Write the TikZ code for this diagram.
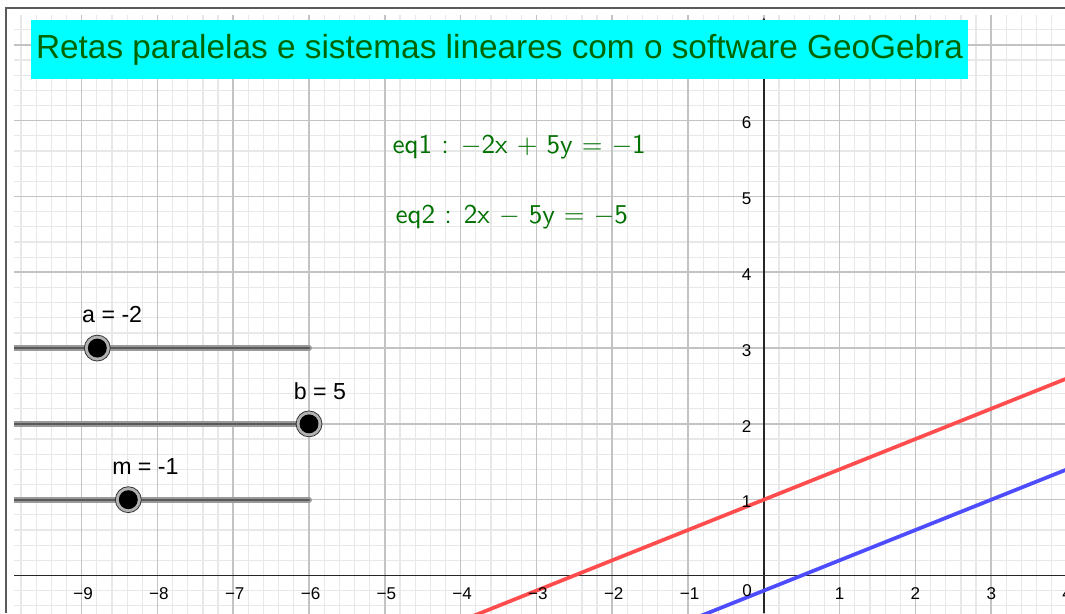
\documentclass[tikz,border=0pt]{standalone}
\usepackage{fontspec}
\newfontfamily\arial{Liberation Sans}
\usetikzlibrary{arrows.meta}
\definecolor{titlegreen}{RGB}{0,100,0}
\definecolor{eqgreen}{RGB}{0,112,0}
\definecolor{minorgrid}{RGB}{232,232,232}
\definecolor{majorgrid}{RGB}{195,195,195}
\definecolor{redline}{RGB}{255,77,77}
\definecolor{blueline}{RGB}{77,77,255}
\definecolor{framecol}{RGB}{90,90,90}
\definecolor{titlecyan}{RGB}{0,255,255}
\begin{document}
\begin{tikzpicture}[x=1cm,y=1cm,
  minorg/.style={draw=minorgrid, line width=0.45pt},
  majorg/.style={draw=majorgrid, line width=0.6pt},
  axisline/.style={draw=black!85, line width=0.65pt},
  ticklab/.style={font=\arial\fontsize{6.4}{7}\selectfont, inner sep=0pt},
  sliderlab/.style={font=\arial\fontsize{8.7}{10}\selectfont, anchor=base west, inner sep=0pt},
  eqlab/.style={font=\sffamily\fontsize{10.2}{12}\selectfont, text=eqgreen, anchor=base west, inner sep=0pt},
  sliderbar/.style={draw=gray!80, line width=2.2pt, line cap=round},
  slidercore/.style={draw=gray!70!black, line width=0.8pt, line cap=round},
  knobring/.style={circle, fill=gray!60, draw=gray!40!black, line width=0.3pt, minimum size=26*0.374pt, inner sep=0pt},
  knob/.style={circle, fill=black, minimum size=19*0.374pt, inner sep=0pt},
  titlebox/.style={fill=titlecyan, text=titlegreen, minimum width=12.361cm, minimum height=0.778cm, inner sep=0pt, font=\arial\fontsize{12.52}{14}\selectfont},
]
\useasboundingbox (-10.077,-0.495) rectangle (3.973,7.592);
% frame
\draw[draw=framecol, line width=0.75pt] (-10.004,-0.495) -- (-10.004,7.493) -- (3.973,7.493);
\begin{scope}
  \clip (-9.892,-0.495) rectangle (3.973,7.381);
  \draw[minorg, step=0.2] (-10,-0.6) grid (4,7.4);
  \draw[majorg, step=1] (-10,-0.6) grid (4,7.4);
  % axes
  \draw[axisline] (-9.892,0) -- (3.973,0);
  \coordinate (ybot) at (0,-0.495);
  \coordinate (ytop) at (0,7.36);
  \draw[axisline, -{Stealth[length=4pt,width=4.5pt]}] (ybot) -- (ytop);
  % lines
  \draw[redline, line width=1.4pt] (-5,-1) -- (5,3);
  \draw[blueline, line width=1.4pt] (-5,-2.2) -- (5,1.8);
  % sliders
  \coordinate (sa0) at (-9.95,3); \coordinate (sa1) at (-6,3);
  \coordinate (sb0) at (-9.95,2); \coordinate (sb1) at (-6,2);
  \coordinate (sm0) at (-9.95,1); \coordinate (sm1) at (-6,1);
  \foreach \s in {a,b,m} {
    \draw[sliderbar] (s\s0) -- (s\s1);
    \draw[slidercore] (s\s0) -- (s\s1);
  }
\end{scope}
% tick labels
\foreach \i in {1,...,9} { \node[ticklab] (xn\i) at (-\i+0.02,-0.244) {−\i}; }
\foreach \i in {1,...,4} { \node[ticklab] (xp\i) at (\i,-0.244) {\i}; }
\node[ticklab] (x0) at (-0.222,-0.204) {0};
\foreach \i in {1,...,6} { \node[ticklab, anchor=east] (y\i) at (-0.156,\i-0.03) {\i}; }
% slider knobs
\node[knobring] (ka) at (-8.793,3) {}; \node[knob] at (ka) {};
\node[knobring] (kb) at (-6,2) {}; \node[knob] at (kb) {};
\node[knobring] (km) at (-8.384,1) {}; \node[knob] at (km) {};
\node[sliderlab] (la) at (-8.999,3.340) {a = -2};
\node[sliderlab] (lb) at (-6.207,2.328) {b = 5};
\node[sliderlab] (lm) at (-8.603,1.326) {m = -1};
% equations
\node[eqlab] (eq1) at (-4.905,5.570) {eq1 : $-$2x $+$ 5y $=$ $-$1};
\node[eqlab] (eq2) at (-4.866,4.637) {eq2 : 2x $-$ 5y $=$ $-$5};
% title
\node[titlebox] (title) at (-3.4865,6.939) {Retas paralelas e sistemas lineares com o software GeoGebra};
\end{tikzpicture}
\end{document}
